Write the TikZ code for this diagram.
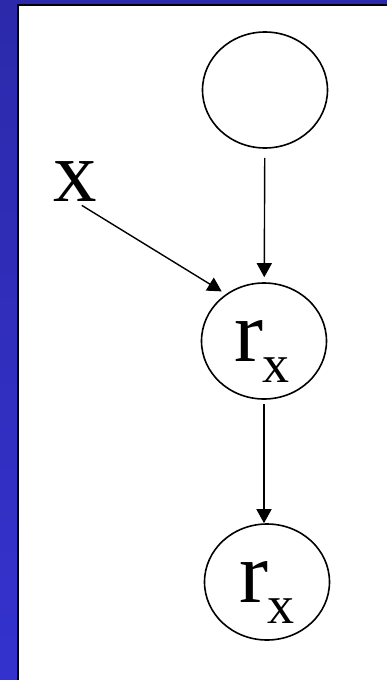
\documentclass[tikz,border=0pt]{standalone}
\usepackage{fontspec}
\setmainfont{Liberation Serif}
\usetikzlibrary{shapes.geometric,arrows.meta}
\definecolor{slidetop}{RGB}{44,42,170}
\definecolor{slidebot}{RGB}{52,50,206}
\newcommand{\rsub}{r\raisebox{-21pt}{\fontsize{54}{54}\selectfont x}}

\begin{document}
\begin{tikzpicture}[x=1pt,y=-1pt,
  var/.style={ellipse,draw=black,line width=1.6pt,minimum width=125pt,minimum height=116pt,inner sep=0pt},
  sym/.style={inner sep=0pt,font=\fontsize{87}{87}\selectfont},
  edge/.style={-{Triangle[length=14pt,width=15pt]},line width=1.4pt}]
\useasboundingbox (0,0) rectangle (387,680);
% slide background:
\shade[top color=slidetop,bottom color=slidebot] (0,0) rectangle (387,680);
\path[fill=white] (18,4.5) rectangle (387,680);
\path[draw=black,line width=2pt] (18,680) -- (18,4.5) -- (387,4.5);
% variables:
\node[var] (hid) at (265,90) {};
\node[var] (rmid) at (264,341) {};
\node[var] (rbot) at (267,582) {};
\node[sym,anchor=base] (rmidtxt) at ([xshift=-2pt,yshift=-20pt]rmid.center) {\rsub};
\node[sym,anchor=base] (rbottxt) at ([yshift=-20pt]rbot.center) {\rsub};
\node[sym,anchor=base] (xin) at (75,201) {x};
% edges:
\draw[edge,shorten <=9pt,shorten >=5pt] (hid) -- (rmid);
\draw[edge,shorten <=4pt] (rmid.south) -- (rmid.south |- rbot.north);
\draw[edge,shorten <=8pt,shorten >=5pt] (xin.south) -- (rmid.129);
\end{tikzpicture}
\end{document}
